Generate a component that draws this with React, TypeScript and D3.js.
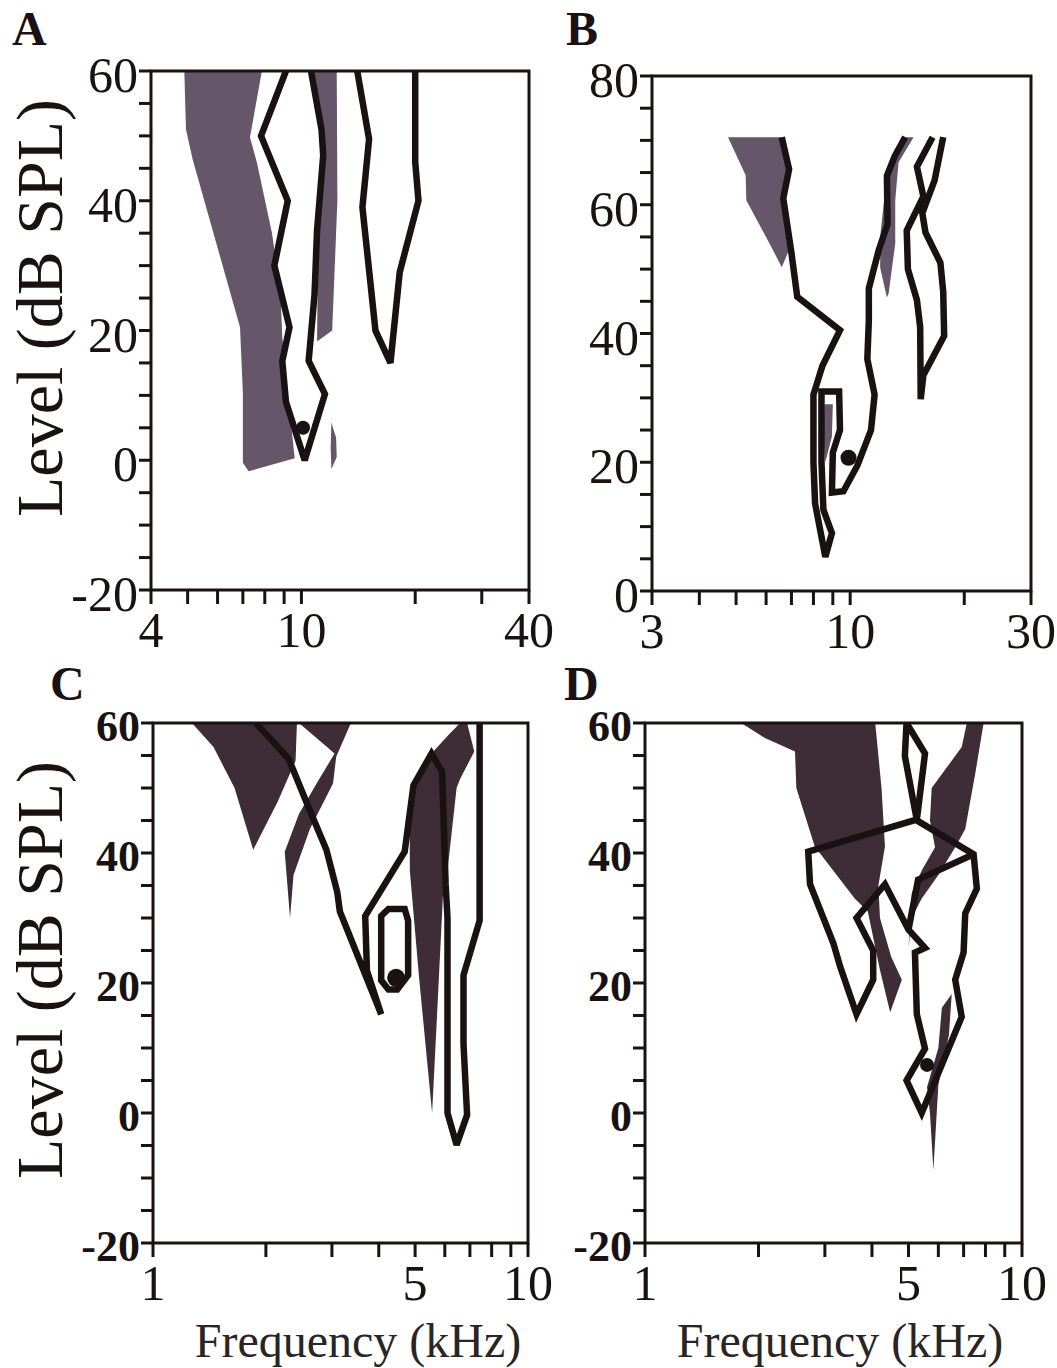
import React from 'react';
import * as d3 from 'd3';

type Pt = [number, number];

// ---------- Panel A (4–40 kHz, -20–60 dB SPL) ----------
const aFreqTicks = [4, 5, 6, 7, 8, 9, 10, 20, 30, 40];
const aFreqLabels = [4, 10, 40];
const aLevelLabels = [60, 40, 20, 0, -20];
const aShadeBand: Pt[] = [[4.9, 60], [4.95, 51], [5.16, 46.3], [6.88, 20.5], [7.0, 10.4], [7.0, -0.4], [7.25, -1.7], [9.6, 0.3], [9.3, 7.7], [8.9, 19], [8.8, 25.8], [8.36, 35], [7.63, 45.8], [7.31, 49.8], [7.86, 60]];
const aShadeStrip: Pt[] = [[10.6, 60], [12.4, 60], [12.45, 40], [12.06, 20], [11.0, 18.3], [11.05, 30], [11.35, 50]];
const aShadeBlob: Pt[] = [[12.0, 5.8], [12.35, 3.5], [12.4, 0.5], [12.0, -1.4], [11.95, 2]];
const aCurveInner: Pt[] = [[9.1, 60], [7.82, 50], [9.2, 40], [8.48, 30], [9.3, 20.5], [8.9, 15.3], [9.1, 9], [10.2, 0], [11.54, 10.2], [10.45, 15.3], [10.83, 25.5], [11.0, 35.5], [11.42, 47], [11.3, 51], [10.6, 60]];
const aCurveOuter: Pt[] = [[14.05, 60], [15.1, 49.5], [14.5, 39], [15.7, 20], [17.2, 15], [18.2, 29], [20.4, 40], [20.0, 46], [20.0, 60]];
const aBestFreq: Pt = [10.1, 5];

// ---------- Panel B (3–30 kHz, 0–80 dB SPL) ----------
const bFreqTicks = [3, 4, 5, 6, 7, 8, 9, 10, 20, 30];
const bFreqLabels = [3, 10, 30];
const bLevelLabels = [80, 60, 40, 20, 0];
const bShadeLeft: Pt[] = [[4.76, 70.5], [6.6, 70.5], [6.85, 65.5], [6.62, 61], [6.9, 53], [6.6, 50.3], [6.2, 53.4], [5.32, 60.7], [5.3, 64.6]];
const bShadeRight: Pt[] = [[14.0, 70.5], [14.7, 70.5], [13.42, 66.6], [13.15, 60.7], [13.15, 54], [12.63, 46.2], [12.5, 45.6], [12.0, 50.2], [12.0, 55], [12.4, 63], [13.0, 67.5]];
const bShadeInner: Pt[] = [[8.55, 29], [9.0, 29], [8.95, 24], [8.6, 20], [8.5, 24]];
const bCurveMain: Pt[] = [[6.6, 70.5], [6.9, 65.5], [6.66, 61], [7.0, 52.5], [7.25, 45.7], [9.4, 40.5], [8.45, 35], [8.0, 30.5], [8.0, 20], [8.08, 13.6], [8.6, 5.3], [8.95, 9], [8.5, 12.6], [8.4, 20], [8.4, 31], [9.35, 31], [9.4, 25], [9.0, 21.5], [8.95, 15.3], [9.6, 15.5], [10.45, 19.5], [11.35, 25], [11.6, 30.5], [11.1, 36], [11.2, 42], [11.2, 47], [11.9, 53], [12.55, 57], [12.5, 64.5], [13.1, 67.5], [13.97, 70.5]];
const bCurveRight: Pt[] = [[16.5, 70.5], [15.0, 65.9], [15.6, 61.3], [14.1, 56], [14.2, 50], [15.0, 45.2], [15.3, 41], [15.35, 29.8], [15.6, 33.5], [17.7, 39.6], [17.6, 46.5], [17.3, 51], [15.8, 55.7], [15.5, 58.7], [16.7, 63.8], [17.6, 70.5]];
const bBestFreq: Pt = [9.9, 20.7];

// ---------- Panel C (1–10 kHz, -20–60 dB SPL) ----------
const cdFreqTicks = [1, 2, 3, 4, 5, 6, 7, 8, 9, 10];
const cdFreqLabels = [1, 5, 10];
const cdLevelLabels = [60, 40, 20, 0, -20];
const cShadeLow: Pt[] = [[1.27, 60], [2.42, 60], [2.4, 54.2], [2.15, 47.9], [1.85, 40.5], [1.65, 50], [1.45, 56.3]];
const cShadeMid: Pt[] = [[2.45, 60], [3.37, 60], [3.08, 54.8], [3.02, 50.7], [2.62, 43.7], [2.37, 36.6], [2.32, 30], [2.245, 40.2], [2.45, 46], [2.75, 51], [3.05, 55.3]];
const cShadeHigh: Pt[] = [[4.95, 50.4], [5.53, 55.3], [5.9, 52.5], [5.95, 35], [5.71, 14.1], [5.55, 0], [5.12, 21], [4.84, 37.3], [4.84, 45]];
const cShadeTop: Pt[] = [[5.53, 55.3], [6.1, 58], [6.59, 60], [6.88, 60], [7.19, 55.6], [6.59, 51.4], [6.45, 50], [6.1, 37.3], [5.95, 45], [5.9, 52.5]];
const cCurveMain: Pt[] = [[1.88, 60], [2.3, 54.5], [2.6, 47], [2.9, 40.5], [3.1, 34], [3.15, 31], [4.06, 15.2], [3.72, 21.9], [3.68, 30.3], [4.69, 40.2], [4.95, 50.4], [5.53, 55.3], [5.9, 52.5], [6.03, 35.2], [6.1, 30], [6.1, 0], [6.45, -4.9], [6.88, -0.3], [6.73, 10.6], [6.73, 21.2], [7.43, 29.6], [7.43, 60]];
const cCurveLoop: Pt[] = [[4.06, 30.3], [4.245, 31.4], [4.69, 31.4], [4.79, 29.6], [4.79, 21.2], [4.48, 19.0], [4.245, 19.0], [4.06, 20.4]];
const cBestFreq: Pt = [4.45, 20.8];

// ---------- Panel D (1–10 kHz, -20–60 dB SPL) ----------
const dShadeLeft: Pt[] = [[1.8, 60], [4.08, 60], [4.24, 50], [4.33, 41], [4.16, 35], [4.2, 30], [4.5, 24], [4.8, 20.5], [4.47, 15.5], [4.2, 22], [3.9, 31], [3.6, 33], [2.82, 41], [2.52, 50], [2.5, 55.6], [2.08, 57.7]];
const dShadeUpper: Pt[] = [[7.14, 60], [7.91, 60], [7.51, 52.1], [7.07, 43.7], [6.65, 40.9], [6.0, 36.6], [5.42, 33], [5.1, 30], [5.0, 25.4], [5.1, 33.8], [5.42, 37.3], [5.88, 40.9], [5.7, 45], [5.76, 50], [6.92, 56.3]];
const dShadeLower: Pt[] = [[6.13, 16.2], [6.51, 18.3], [6.4, 12], [6.0, 4.3], [5.82, -8.75], [5.7, 0], [5.6, 4], [6.0, 10]];
const dCurveSpike: Pt[] = [[4.94, 60], [5.53, 55.3], [5.26, 45.1], [4.89, 54.9]];
const dCurveMain: Pt[] = [[2.71, 40.2], [5.23, 45.1], [7.44, 39.8], [7.59, 34.5], [7.07, 30.7], [7.0, 24.7], [6.65, 20.5], [6.92, 14.8], [5.42, 0], [4.94, 5], [5.53, 9.9], [5.26, 15.2], [5.2, 24.7], [5.53, 25.4], [5.0, 28.2], [4.33, 35.2], [3.64, 30], [4.03, 25], [4.03, 20.5], [3.64, 15.2], [3.29, 22.6], [3.16, 26.1], [2.74, 35.2]];
const dCurveInner: Pt[] = [[7.44, 39.8], [5.3, 35.9], [5.0, 28.2]];
const dBestFreq: Pt = [5.6, 7.4];

const SERIF = '"Liberation Serif", "DejaVu Serif", serif';
const INK = '#1a1212';

interface Contour { pts: Pt[]; closed: boolean }
interface PanelProps {
  id: string;
  letter: string;
  letterPos: [number, number];
  box: { left: number; right: number; top: number; bottom: number };
  xDomain: [number, number];
  yDomain: [number, number];
  xTicks: number[];
  xLabels: number[];
  yLabels: number[];
  yLabelBold: boolean;
  yLabelSize: number;
  shades: Pt[][];
  contours: Contour[];
  dot: Pt;
  dotR: number;
  fill: string;
  yTitle?: { x: number; y: number };
  xTitle?: { x: number; y: number };
}

function Panel(p: PanelProps) {
  const { left, right, top, bottom } = p.box;
  const x = d3.scaleLog().domain(p.xDomain).range([left, right]);
  const y = d3.scaleLinear().domain(p.yDomain).range([bottom, top]);
  const yTicks = d3.range(p.yDomain[0], p.yDomain[1] + 0.1, 5);
  const line = d3.line<Pt>().x((d) => x(d[0])).y((d) => y(d[1]));
  const clipId = `clip-${p.id}`;
  return (
    <g>
      <defs>
        <clipPath id={clipId}>
          <rect x={left} y={top} width={right - left} height={bottom - top} />
        </clipPath>
      </defs>
      <text x={p.letterPos[0]} y={p.letterPos[1]} fontFamily={SERIF} fontWeight="bold" fontSize={48} fill={INK}>
        {p.letter}
      </text>
      <g clipPath={`url(#${clipId})`}>
        {p.shades.map((s, i) => (
          <path key={`s${i}`} d={line(s) + 'Z'} fill={p.fill} stroke="none" />
        ))}
        {p.contours.map((c, i) => (
          <path
            key={`c${i}`}
            d={line(c.pts) + (c.closed ? 'Z' : '')}
            fill="none"
            stroke={INK}
            strokeWidth={6.5}
            strokeLinejoin="miter"
            strokeMiterlimit={3}
          />
        ))}
        <circle cx={x(p.dot[0])} cy={y(p.dot[1])} r={p.dotR} fill={INK} />
      </g>
      <rect x={left} y={top} width={right - left} height={bottom - top} fill="none" stroke={INK} strokeWidth={3} />
      {yTicks.map((t) => (
        <line key={`yt${t}`} x1={left - 12} x2={left} y1={y(t)} y2={y(t)} stroke={INK} strokeWidth={3} />
      ))}
      {p.xTicks.map((t) => (
        <line key={`xt${t}`} x1={x(t)} x2={x(t)} y1={bottom} y2={bottom + 14} stroke={INK} strokeWidth={3} />
      ))}
      {p.yLabels.map((t) => (
        <text
          key={`yl${t}`}
          x={left - 13}
          y={y(t)}
          dy="0.42em"
          textAnchor="end"
          fontFamily={SERIF}
          fontWeight={p.yLabelBold ? 'bold' : 'normal'}
          fontSize={p.yLabelSize}
          fill={INK}
        >
          {t < 0 ? `-${Math.abs(t)}` : t}
        </text>
      ))}
      {p.xLabels.map((t) => (
        <text key={`xl${t}`} x={x(t)} y={bottom + 57} textAnchor="middle" fontFamily={SERIF} fontSize={50} fill={INK}>
          {t}
        </text>
      ))}
      {p.yTitle && (
        <text
          x={p.yTitle.x}
          y={p.yTitle.y}
          transform={`rotate(-90, ${p.yTitle.x}, ${p.yTitle.y})`}
          textAnchor="middle"
          fontFamily={SERIF}
          fontSize={66}
          fill={INK}
        >
          Level (dB SPL)
        </text>
      )}
      {p.xTitle && (
        <text x={p.xTitle.x} y={p.xTitle.y} textAnchor="middle" fontFamily={SERIF} fontSize={48} fill="#2a2424">
          Frequency (kHz)
        </text>
      )}
    </g>
  );
}

export default function App() {
  return (
    <svg width={1057} height={1368} viewBox="0 0 1057 1368" style={{ display: 'block', position: 'absolute', left: 0, top: 0, background: '#fff' }}>
      <rect width={1057} height={1368} fill="#fff" />
      <Panel
        id="a"
        letter="A"
        letterPos={[12, 45]}
        box={{ left: 151, right: 529, top: 71, bottom: 590 }}
        xDomain={[4, 40]}
        yDomain={[-20, 60]}
        xTicks={aFreqTicks}
        xLabels={aFreqLabels}
        yLabels={aLevelLabels}
        yLabelBold={false}
        yLabelSize={50}
        shades={[aShadeBand, aShadeStrip, aShadeBlob]}
        contours={[{ pts: aCurveInner, closed: false }, { pts: aCurveOuter, closed: false }]}
        dot={aBestFreq}
        dotR={7}
        fill="#66566a"
        yTitle={{ x: 62, y: 308 }}
      />
      <Panel
        id="b"
        letter="B"
        letterPos={[566, 45]}
        box={{ left: 652, right: 1031, top: 76, bottom: 591 }}
        xDomain={[3, 30]}
        yDomain={[0, 80]}
        xTicks={bFreqTicks}
        xLabels={bFreqLabels}
        yLabels={bLevelLabels}
        yLabelBold={false}
        yLabelSize={50}
        shades={[bShadeLeft, bShadeRight, bShadeInner]}
        contours={[{ pts: bCurveMain, closed: false }, { pts: bCurveRight, closed: false }]}
        dot={bBestFreq}
        dotR={8}
        fill="#66566a"
      />
      <Panel
        id="c"
        letter="C"
        letterPos={[50, 700]}
        box={{ left: 153, right: 528, top: 723, bottom: 1243 }}
        xDomain={[1, 10]}
        yDomain={[-20, 60]}
        xTicks={cdFreqTicks}
        xLabels={cdFreqLabels}
        yLabels={cdLevelLabels}
        yLabelBold={true}
        yLabelSize={44}
        shades={[cShadeLow, cShadeMid, cShadeHigh, cShadeTop]}
        contours={[{ pts: cCurveMain, closed: false }, { pts: cCurveLoop, closed: true }]}
        dot={cBestFreq}
        dotR={9}
        fill="#3e2c36"
        yTitle={{ x: 62, y: 970 }}
        xTitle={{ x: 358, y: 1357 }}
      />
      <Panel
        id="d"
        letter="D"
        letterPos={[564, 700]}
        box={{ left: 645, right: 1022, top: 723, bottom: 1243 }}
        xDomain={[1, 10]}
        yDomain={[-20, 60]}
        xTicks={cdFreqTicks}
        xLabels={cdFreqLabels}
        yLabels={cdLevelLabels}
        yLabelBold={true}
        yLabelSize={44}
        shades={[dShadeLeft, dShadeUpper, dShadeLower]}
        contours={[
          { pts: dCurveSpike, closed: true },
          { pts: dCurveMain, closed: true },
          { pts: dCurveInner, closed: false },
        ]}
        dot={dBestFreq}
        dotR={7}
        fill="#3e2c36"
        xTitle={{ x: 840, y: 1357 }}
      />
    </svg>
  );
}
